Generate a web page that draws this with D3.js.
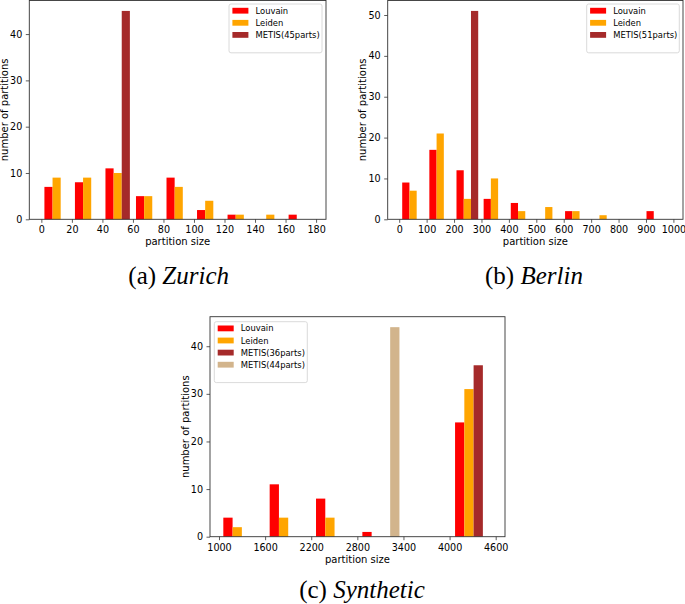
<!DOCTYPE html>
<html>
<head>
<meta charset="utf-8">
<script src="https://cdn.jsdelivr.net/npm/d3@7"></script>
<style>
  html, body { margin: 0; padding: 0; background: #fff; }
  svg { display: block; }
  text { font-family: "DejaVu Sans", sans-serif; fill: #000; }
  .cap { font-family: "Liberation Serif", serif; }
</style>
</head>
<body>
<svg id="chart" width="685" height="604"></svg>
<script>
// ---------------- DATA ----------------
const seriesColors = ["#ff0000", "#ffa500", "#a52a2a", "#d2b48c"];

// (a) Zurich
const zurichEdges   = [0, 20, 40, 60, 80, 100, 120, 140, 160, 180];
const zurichLouvain = [7, 8, 11, 5, 9, 2, 1, 0, 1];
const zurichLeiden  = [9, 9, 10, 5, 7, 4, 1, 1, 0];
const zurichMetis45 = [0, 0, 45, 0, 0, 0, 0, 0, 0];
const zurichNames   = ["Louvain", "Leiden", "METIS(45parts)"];
const zurichXTicks  = [0, 20, 40, 60, 80, 100, 120, 140, 160, 180];
const zurichYTicks  = [0, 10, 20, 30, 40];
const zurichXDomain = [-7.9, 186.5];
const zurichYMax    = 47.25;

// (b) Berlin
const berlinEdges   = [1, 100, 199, 298, 397, 496, 595, 694, 793, 892, 991];
const berlinLouvain = [9, 17, 12, 5, 4, 0, 2, 0, 0, 2];
const berlinLeiden  = [7, 21, 5, 10, 2, 3, 2, 1, 0, 0];
const berlinMetis51 = [0, 0, 51, 0, 0, 0, 0, 0, 0, 0];
const berlinNames   = ["Louvain", "Leiden", "METIS(51parts)"];
const berlinXTicks  = [0, 100, 200, 300, 400, 500, 600, 700, 800, 900, 1000];
const berlinYTicks  = [0, 10, 20, 30, 40, 50];
const berlinXDomain = [-42, 1035];
const berlinYMax    = 53.55;

// (c) Synthetic
const synthEdges    = [996, 1599, 2202, 2805, 3408, 4011, 4614];
const synthLouvain  = [4, 11, 8, 1, 0, 24];
const synthLeiden   = [2, 4, 4, 0, 0, 31];
const synthMetis36  = [0, 0, 0, 0, 0, 36];
const synthMetis44  = [0, 0, 0, 44, 0, 0];
const synthNames    = ["Louvain", "Leiden", "METIS(36parts)", "METIS(44parts)"];
const synthXTicks   = [1000, 1600, 2200, 2800, 3400, 4000, 4600];
const synthYTicks   = [0, 10, 20, 30, 40];
const synthXDomain  = [883, 4721];
const synthYMax     = 46.2;

// ---------------- DRAW ----------------
const svg = d3.select("#chart");

function panel(cfg) {
  const { box, edges, series, names, xTicks, yTicks, xDomain, yMax, legend, caption } = cfg;
  const x = d3.scaleLinear().domain(xDomain).range([box.l, box.r]);
  const y = d3.scaleLinear().domain([0, yMax]).range([box.b, box.t]);
  const g = svg.append("g");
  const n = series.length;

  // bars (matplotlib side-by-side histogram layout)
  series.forEach((vals, si) => {
    const bars = vals.map((v, i) => {
      const w = edges[i + 1] - edges[i];
      const x0 = edges[i] + w * (0.1 + si * 0.8 / n);
      return { x0, x1: x0 + w * 0.8 / n, v };
    }).filter(d => d.v > 0);
    g.selectAll(null).data(bars).enter().append("rect")
      .attr("x", d => x(d.x0))
      .attr("width", d => x(d.x1) - x(d.x0))
      .attr("y", d => y(d.v))
      .attr("height", d => y(0) - y(d.v))
      .attr("fill", seriesColors[si]);
  });

  // axes
  const xAxis = d3.axisBottom(x).tickValues(xTicks).tickSize(3.5).tickPadding(3.5).tickFormat(d3.format("d"));
  const yAxis = d3.axisLeft(y).tickValues(yTicks).tickSize(3.5).tickPadding(3.5).tickFormat(d3.format("d"));
  const gx = g.append("g").attr("transform", `translate(0,${box.b})`).call(xAxis);
  const gy = g.append("g").attr("transform", `translate(${box.l},0)`).call(yAxis);
  [gx, gy].forEach(a => {
    a.select(".domain").remove();
    a.selectAll(".tick line").attr("stroke", "#333").attr("stroke-width", 0.8);
    a.selectAll(".tick text").attr("font-family", "DejaVu Sans").attr("font-size", 9.6).attr("fill", "#000");
  });

  // frame
  g.append("rect")
    .attr("x", box.l).attr("y", box.t)
    .attr("width", box.r - box.l).attr("height", box.b - box.t)
    .attr("fill", "none").attr("stroke", "#333").attr("stroke-width", 0.9);

  // axis labels
  g.append("text")
    .attr("x", (box.l + box.r) / 2).attr("y", box.b + 26)
    .attr("text-anchor", "middle").attr("font-size", 10)
    .text("partition size");
  g.append("text")
    .attr("transform", `translate(${box.l - 21.5},${(box.t + box.b) / 2}) rotate(-90)`)
    .attr("text-anchor", "middle").attr("font-size", 10)
    .text("number of partitions");

  // legend
  const lg = g.append("g");
  lg.append("rect")
    .attr("x", legend.x).attr("y", legend.y)
    .attr("width", legend.w).attr("height", 14.5 + names.length * 12.1 - 2)
    .attr("rx", 2).attr("fill", "#fff").attr("fill-opacity", 0.85)
    .attr("stroke", "#d0d0d0").attr("stroke-width", 0.8);
  names.forEach((nm, i) => {
    const cy = legend.y + 6.7 + i * 12.1;
    lg.append("rect")
      .attr("x", legend.x + 3.4).attr("y", cy - 2.9)
      .attr("width", 16).attr("height", 5.8)
      .attr("fill", seriesColors[i]);
    lg.append("text")
      .attr("x", legend.x + 26.5).attr("y", cy + 3)
      .attr("font-size", 8.4)
      .text(nm);
  });

  // caption
  const cap = svg.append("text").attr("class", "cap")
    .attr("x", caption.x).attr("y", caption.y)
    .attr("text-anchor", "middle").attr("font-size", 25);
  cap.append("tspan").text(caption.label + " ");
  cap.append("tspan").attr("font-style", "italic").text(caption.name);
}

panel({
  box: { l: 29.3, r: 326, t: 0.5, b: 219.3 },
  edges: zurichEdges,
  series: [zurichLouvain, zurichLeiden, zurichMetis45],
  names: zurichNames, xTicks: zurichXTicks, yTicks: zurichYTicks,
  xDomain: zurichXDomain, yMax: zurichYMax,
  legend: { x: 229, y: 4, w: 93 },
  caption: { x: 178.7, y: 283.5, label: "(a)", name: "Zurich" }
});

panel({
  box: { l: 387.7, r: 683, t: 0.5, b: 219.3 },
  edges: berlinEdges,
  series: [berlinLouvain, berlinLeiden, berlinMetis51],
  names: berlinNames, xTicks: berlinXTicks, yTicks: berlinYTicks,
  xDomain: berlinXDomain, yMax: berlinYMax,
  legend: { x: 586.7, y: 4, w: 92.6 },
  caption: { x: 534, y: 283.5, label: "(b)", name: "Berlin" }
});

panel({
  box: { l: 210, r: 505, t: 316.7, b: 536.7 },
  edges: synthEdges,
  series: [synthLouvain, synthLeiden, synthMetis36, synthMetis44],
  names: synthNames, xTicks: synthXTicks, yTicks: synthYTicks,
  xDomain: synthXDomain, yMax: synthYMax,
  legend: { x: 214.3, y: 321.7, w: 93 },
  caption: { x: 362, y: 598, label: "(c)", name: "Synthetic" }
});
</script>
</body>
</html>
